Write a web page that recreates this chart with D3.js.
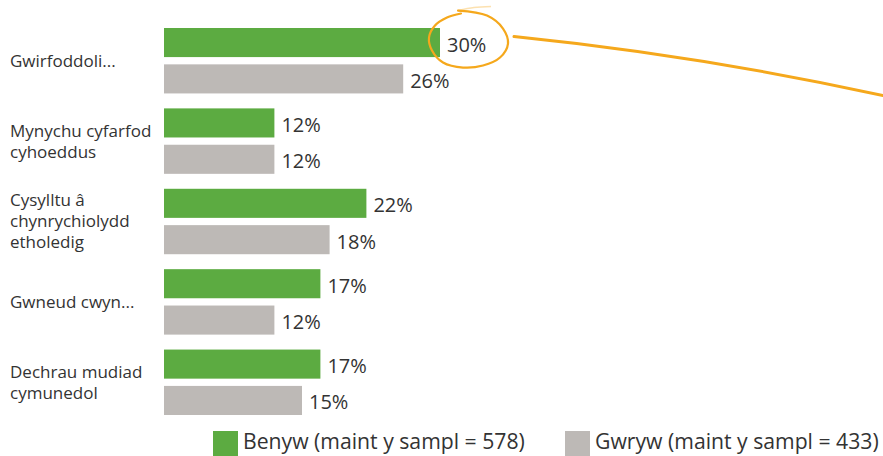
<!DOCTYPE html>
<html lang="cy">
<head>
  <meta charset="UTF-8">
  <script src="https://d3js.org/d3.v7.min.js"></script>
  <style>
    body { margin: 0; background: #fff; }
    text { font-family: "Open Sans", sans-serif; fill: #333; }
  </style>
  <title>Benyw / Gwryw</title>
</head>
<body>
  <svg id="chart" width="883" height="456"></svg>
  <script>
    var categories = ['Gwirfoddoli...', 'Mynychu cyfarfod\ncyhoeddus', 'Cysylltu â\nchynrychiolydd\netholedig', 'Gwneud cwyn...', 'Dechrau mudiad\ncymunedol'];
    var benyw = [30, 12, 22, 17, 17];
    var gwryw = [26, 12, 18, 12, 15];
    var seriesNames = ['Benyw (maint y sampl = 578)', 'Gwryw (maint y sampl = 433)'];
    var colours = ['#5cab41', '#bdb9b6'];

    var svg = d3.select('#chart');

    var x = d3.scaleLinear().domain([0, 30]).range([164, 440]);
    var y = d3.scaleBand().domain(d3.range(categories.length)).range([28, 415]).paddingInner(0.186);
    var sub = d3.scaleBand().domain([0, 1]).range([0, y.bandwidth()]).paddingInner(0.2);

    var rows = categories.map(function(c, i) { return {i: i, label: c, vals: [benyw[i], gwryw[i]]}; });

    var g = svg.selectAll('g.row').data(rows).enter().append('g')
      .attr('class', 'row')
      .attr('transform', function(d) { return 'translate(0,' + y(d.i) + ')'; });

    g.selectAll('rect').data(function(d) { return d.vals; }).enter().append('rect')
      .attr('x', x(0))
      .attr('y', function(d, j) { return sub(j); })
      .attr('width', function(d) { return x(d) - x(0); })
      .attr('height', sub.bandwidth())
      .attr('fill', function(d, j) { return colours[j]; });

    g.selectAll('text.val').data(function(d) { return d.vals; }).enter().append('text')
      .attr('class', 'val')
      .attr('x', function(d) { return x(d) + 7; })
      .attr('y', function(d, j) { return sub(j) + sub.bandwidth() / 2 + 2; })
      .attr('dy', '0.35em')
      .style('font-size', '20px')
      .text(function(d) { return d + '%'; });

    // category labels, centred on the pair of bars
    g.each(function(d) {
      var lines = d.label.split('\n');
      var t = d3.select(this).append('text')
        .attr('x', 10)
        .style('font-size', '17px');
      lines.forEach(function(l, k) {
        t.append('tspan')
          .attr('x', 10)
          .attr('y', y.bandwidth() / 2 + (k - (lines.length - 1) / 2) * 21)
          .attr('dy', '0.35em')
          .text(l);
      });
    });

    // legend
    var legX = [213, 565];
    var lg = svg.selectAll('g.leg').data(seriesNames).enter().append('g')
      .attr('class', 'leg')
      .attr('transform', function(d, i) { return 'translate(' + legX[i] + ',431)'; });
    lg.append('rect').attr('width', 25).attr('height', 26).attr('fill', function(d, i) { return colours[i]; });
    lg.append('text').attr('x', 30).attr('y', 18).style('font-size', '21.2px').text(function(d) { return d; });

    // hand-drawn highlight round the top value
    var orange = '#f5a81c';
    var cx = x(benyw[0]) + 29, cy = y(0) + sub.bandwidth() / 2 - 3;
    var loop = [[-11, -29], [18, -24], [34, -11], [39, 4], [31, 18], [14, 26], [-6, 28], [-26, 23],
                [-37, 11], [-40, -2], [-34, -14], [-22, -22], [-8, -26]];
    var ringLine = d3.line()
      .x(function(p) { return cx + p[0]; })
      .y(function(p) { return cy + p[1]; })
      .curve(d3.curveCatmullRom);
    svg.append('path').attr('d', ringLine(loop))
      .attr('fill', 'none').attr('stroke', orange).attr('stroke-width', 2.2).attr('stroke-linecap', 'round');
    svg.append('path').attr('d', ringLine([[-11, -29], [5, -32], [22, -33]]))
      .attr('fill', 'none').attr('stroke', orange).attr('stroke-opacity', 0.35).attr('stroke-width', 1.5);

    var tail = d3.path();
    tail.moveTo(cx + 45, cy - 3);
    tail.quadraticCurveTo(cx + 231, cy + 16, 883, cy + 56);
    svg.append('path').attr('d', tail.toString())
      .attr('fill', 'none').attr('stroke', orange).attr('stroke-width', 3).attr('stroke-linecap', 'round');
  </script>
</body>
</html>
